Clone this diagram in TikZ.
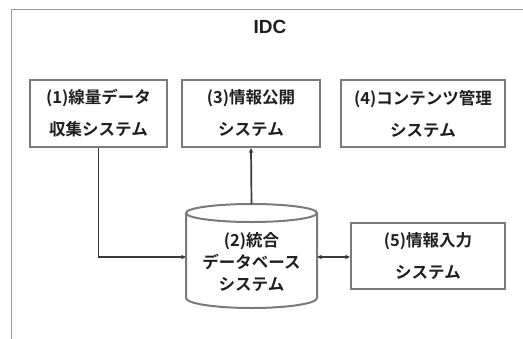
\documentclass[tikz,border=0pt]{standalone}
\usepackage{fontspec}
\setmainfont{Liberation Sans}
\newfontfamily\cjk{Noto Sans CJK JP}[BoldFont=* Bold]
\usetikzlibrary{shapes.geometric,arrows.meta}
\definecolor{boxgray}{HTML}{7A7A7A}
\definecolor{framegray}{HTML}{9A9A9A}
\definecolor{linedark}{HTML}{3A3A3A}
\definecolor{txt}{HTML}{1E1E1E}
\tikzset{
  sysbox/.style={draw=boxgray, line width=2pt, fill=white, inner sep=0pt,
    font=\cjk\bfseries\fontsize{16.5}{32}\selectfont, text=txt, align=center},
  conn/.style={draw=linedark, line width=1.7pt},
  tip/.style={-{Stealth[length=5pt,width=4.5pt]}},
  dtip/.style={{Stealth[length=5pt,width=4.5pt]}-{Stealth[length=5pt,width=4.5pt]}},
}
\begin{document}
\begin{tikzpicture}[x=1pt,y=-1pt]
\useasboundingbox (0,0) rectangle (523,338);
\clip (0,0) rectangle (523,338);
\fill[white] (0,0) rectangle (523,338);
% outer frame
\draw[framegray, line width=1.8pt] (11.5,345) -- (11.5,9.5) -- (530,9.5);
\node[font=\bfseries\fontsize{19}{22}\selectfont, text=txt] (idc) at (270,27) {IDC};
% boxes
\node[sysbox, minimum width=137pt, minimum height=67pt] (b1) at (98.5,113.5) {(1)線量データ\\収集システム};
\node[sysbox, minimum width=138pt, minimum height=67pt] (b3) at (251,113.5) {(3)情報公開\\システム};
\node[sysbox, minimum width=164pt, minimum height=67pt] (b4) at (423,113.5) {(4)コンテンツ管理\\システム};
\node[sysbox, minimum width=154pt, minimum height=66pt] (b5) at (428,256) {(5)情報入力\\システム};
% cylinder
\draw[boxgray, line width=2pt, fill=white]
  (186,213) -- (186,298) arc[start angle=180, end angle=0, x radius=65.5, y radius=10]
  -- (317,213) arc[start angle=0, end angle=-180, x radius=65.5, y radius=9];
\draw[boxgray, line width=2pt] (186,213) arc[start angle=180, end angle=0, x radius=65.5, y radius=9];
\node[font=\cjk\bfseries\fontsize{16.5}{22}\selectfont, text=txt, align=center] (db) at (251.5,262) {(2)統合\\データベース\\システム};
\coordinate (dbtop) at (251.5,204);
\coordinate (dbleft) at (186,257);
\coordinate (dbright) at (317,257);
% connectors
\draw[conn, tip] (b1.south) |- (dbleft);
\draw[conn, tip] (dbtop) -- (b3.south);
\draw[conn, dtip] (dbright) -- (b5.west |- dbright);
\end{tikzpicture}
\end{document}
